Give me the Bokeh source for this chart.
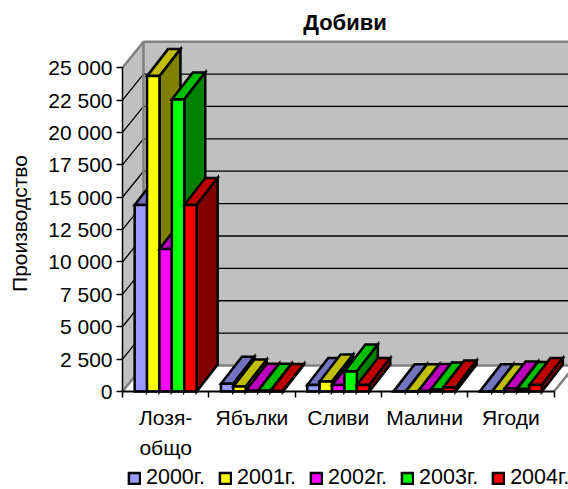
from bokeh.embed import file_html
from bokeh.resources import INLINE
from bokeh.plotting import figure
from bokeh.models import Range1d, FixedTicker, Legend, LegendItem, Label

title = "Добиви"
y_title = "Производство"
categories = ["Лозя-", "Ябълки", "Сливи", "Малини", "Ягоди"]
category_second_line = "общо"
series = ["2000г.", "2001г.", "2002г.", "2003г.", "2004г."]
v2000 = [14400, 600, 500, 10, 10]
v2001 = [24350, 380, 770, 10, 10]
v2002 = [11000, 60, 500, 30, 230]
v2003 = [22550, 60, 1550, 150, 200]
v2004 = [14400, 40, 500, 300, 500]
values = [v2000, v2001, v2002, v2003, v2004]
y_ticks = [0, 2500, 5000, 7500, 10000, 12500, 15000, 17500, 20000, 22500, 25000]
y_tick_labels = ["0", "2 500", "5 000", "7 500", "10 000", "12 500", "15 000",
                 "17 500", "20 000", "22 500", "25 000"]
front = ["#9999FF", "#FFFF00", "#FF00FF", "#00FF00", "#FF0000"]
top = ["#7373BF", "#BFBF00", "#BF00BF", "#00BF00", "#BF0000"]
side = ["#4D4D80", "#808000", "#800080", "#008000", "#800000"]

FONT = "Liberation Sans"
SIZE = "21px"
PXX = 86.3          # px per category
PXY = 323.8 / 25000 # px per unit
DX = 21 / PXX       # depth in category units
DY = 26 / PXY       # wall depth in value units
DYB = 27 / PXY      # bar depth in value units
BAR = 12.4 / PXX
GAP = (1 - 5 * BAR) / 2
L, B = 122, 391     # page position of the data origin
W, H = 568, 489

def px(x):
    return (x - L) / PXX

def py(y):
    return (B - y) / PXY

# The frame fills the page, so nothing drawn around the axes is clipped.
p = figure(width=W, height=H, output_backend="svg", toolbar_location=None,
           x_range=Range1d(px(0), px(W)), y_range=Range1d(py(H), py(0)),
           min_border=0, outline_line_color=None,
           background_fill_color="white", border_fill_color="white")
p.grid.visible = False

ax = p.yaxis[0]
ax.fixed_location = 0
ax.ticker = FixedTicker(ticks=y_ticks)
ax.major_label_overrides = dict(zip(y_ticks, y_tick_labels))
ax.bounds = (0, 25000)
ax.major_tick_in = 0
ax.major_tick_out = 6
ax.minor_tick_in = 0
ax.minor_tick_out = 0
ax.axis_line_width = 1.5
ax.major_tick_line_width = 1.5
ax.major_label_text_font = FONT
ax.major_label_text_font_size = SIZE
ax.major_label_text_color = "black"
ax.major_label_standoff = 4

bx = p.xaxis[0]
n = len(categories)
bx.fixed_location = 0
bx.ticker = FixedTicker(ticks=[i + 0.5 for i in range(n)], minor_ticks=list(range(n + 1)))
bx.major_label_overrides = {i + 0.5: c for i, c in enumerate(categories)}
bx.bounds = (0, n)
bx.major_tick_in = 0
bx.major_tick_out = 0
bx.major_tick_line_color = None
bx.minor_tick_in = 0
bx.minor_tick_out = 6
bx.minor_tick_line_color = "black"
bx.minor_tick_line_width = 1.5
bx.axis_line_width = 2
bx.major_label_text_font = FONT
bx.major_label_text_font_size = SIZE
bx.major_label_text_color = "black"
bx.major_label_standoff = 8

GRAY = "#808080"
# floor, back wall, left wall
p.patch([0, n, n + DX, DX], [0, 0, DY, DY], fill_color="white", line_color=None)
p.patch([DX, n + DX, n + DX, DX], [DY, DY, 25000 + DY, 25000 + DY], fill_color="#C0C0C0", line_color=None)
p.patch([0, DX, DX, 0], [0, DY, 25000 + DY, 25000], fill_color="#C0C0C0", line_color=None)
# gridlines
gx, gy = [], []
for t in y_ticks[1:-1]:
    gx.append([0, DX, n + DX])
    gy.append([t, t + DY, t + DY])
p.multi_line(gx, gy, line_color="black", line_width=1.3)
# wall edges
p.multi_line([[0, DX, DX, 0], [DX, n + DX], [DX, n + DX], [n, n + DX]],
             [[0, DY, 25000 + DY, 25000], [DY, DY], [25000 + DY, 25000 + DY], [0, DY]],
             line_color=GRAY, line_width=2.5)

items = []
for s, name in enumerate(series):
    x0 = [i + GAP + s * BAR for i in range(n)]
    x1 = [x + BAR for x in x0]
    v = values[s]
    p.patches([[a, b, b + DX, a + DX] for a, b in zip(x0, x1)],
              [[h, h, h + DYB, h + DYB] for h in v],
              fill_color=top[s], line_color="black", line_width=2.5, line_join="miter")
    p.patches([[b, b, b + DX, b + DX] for b in x1],
              [[0, h, h + DYB, DYB] for h in v],
              fill_color=side[s], line_color="black", line_width=2.5, line_join="miter")
    r = p.quad(left=x0, right=x1, bottom=0, top=v,
               fill_color=front[s], line_color="black", line_width=2.5, line_join="miter")
    items.append(LegendItem(label=name, renderers=[r]))

legend = Legend(items=items, orientation="horizontal", location=(127, -1),
                background_fill_color=None, border_line_color=None,
                glyph_width=14, glyph_height=14, label_standoff=5, spacing=13,
                padding=0, margin=0,
                label_text_font=FONT, label_text_font_size="21.5px", label_text_color="black")
p.add_layout(legend, "center")

text_style = dict(text_font=FONT, text_color="black", text_align="center", text_baseline="middle")
p.add_layout(Label(x=px(344.5), y=py(22), text=title, text_font_size="22px",
                   text_font_style="bold", **text_style))
p.add_layout(Label(x=px(19), y=py(223), text=y_title, angle=90, angle_units="deg",
                   text_font_size=SIZE, **text_style))
p.add_layout(Label(x=0.5, y=py(446.5), text=category_second_line, text_font_size=SIZE, **text_style))

open("out.html", "w").write(file_html(p, INLINE))
